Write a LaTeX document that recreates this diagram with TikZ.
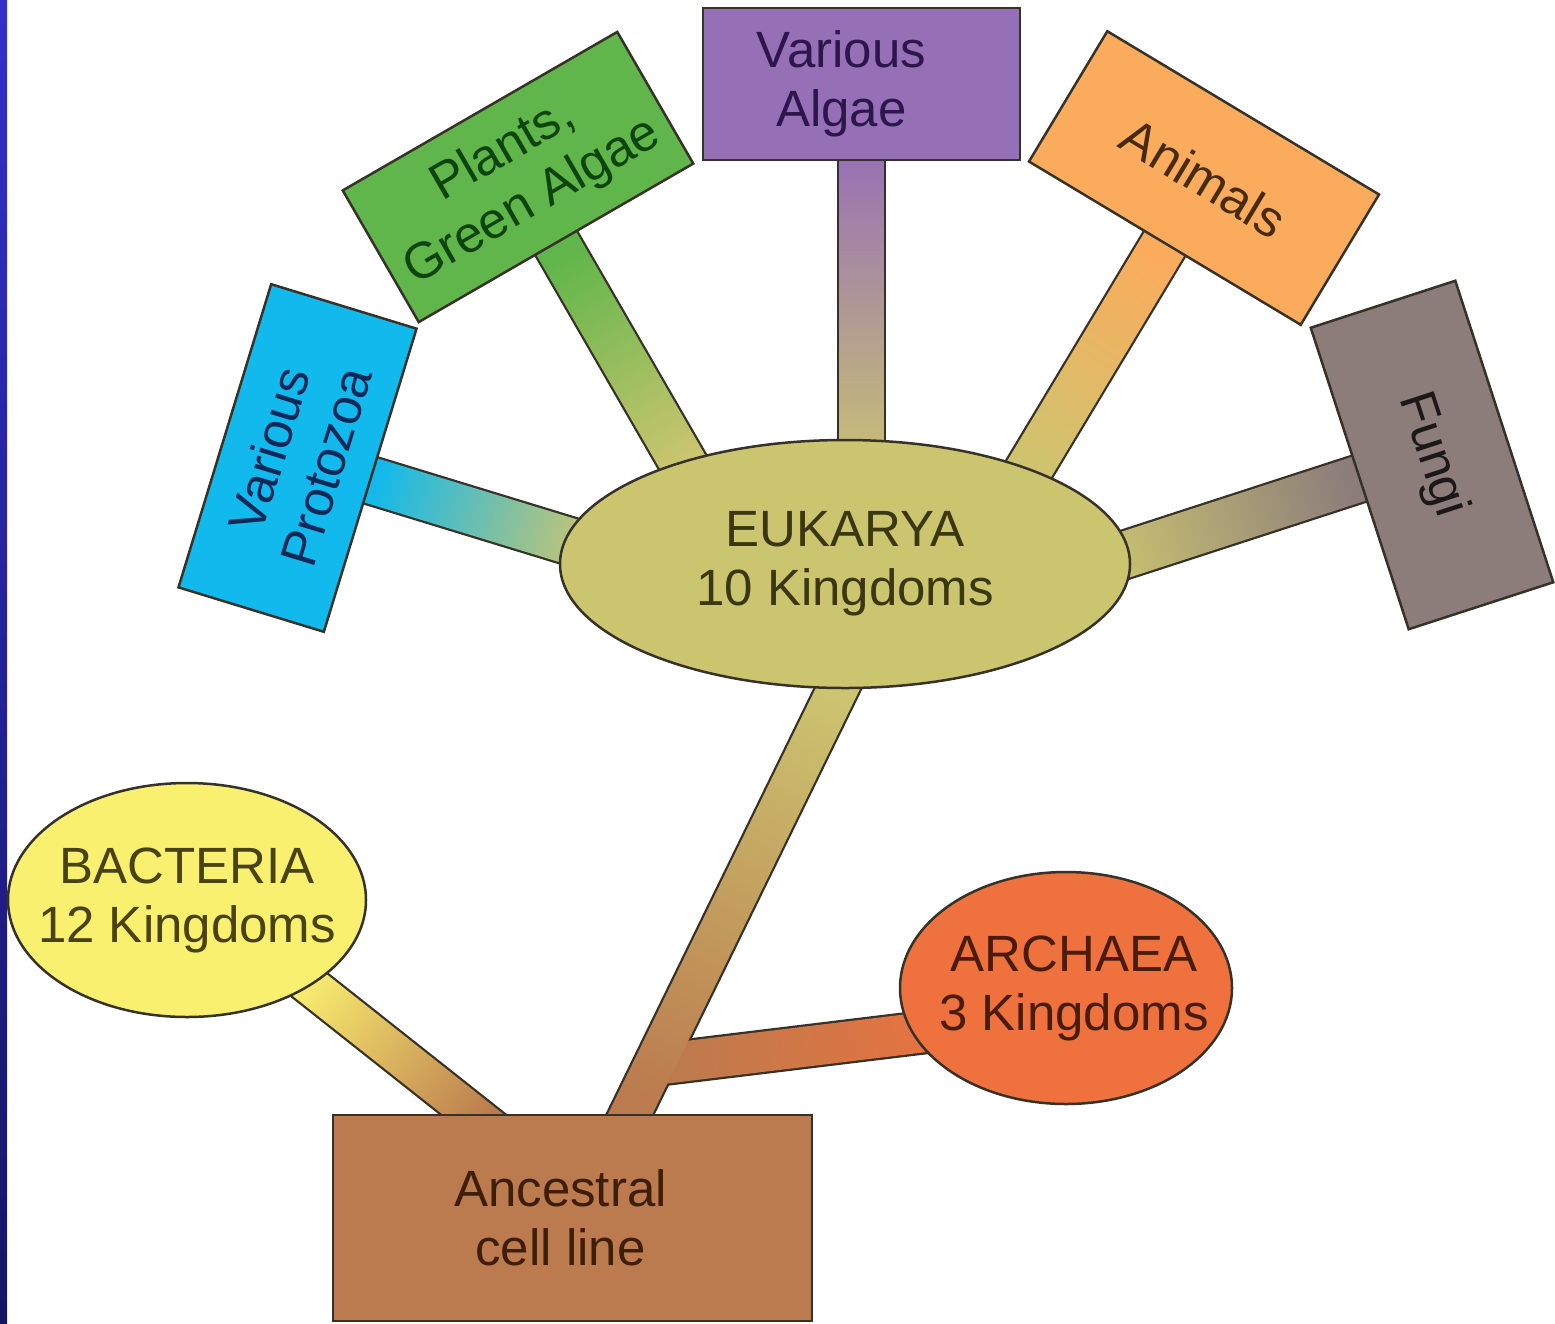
\documentclass[tikz,border=0pt]{standalone}
\usepackage{fontspec}
\setmainfont{Liberation Sans}
\usetikzlibrary{shapes.geometric,calc}
\pgfdeclarelayer{back}
\pgfdeclarelayer{stemline}
\pgfdeclarelayer{stemfill}
\pgfsetlayers{back,stemline,stemfill,main}
\definecolor{cEuk}{RGB}{204,197,112}
\definecolor{cAlg}{RGB}{150,112,182}
\definecolor{cPla}{RGB}{96,182,74}
\definecolor{cPro}{RGB}{18,185,236}
\definecolor{cAni}{RGB}{250,172,92}
\definecolor{cFun}{RGB}{140,125,123}
\definecolor{cAnc}{RGB}{187,123,78}
\definecolor{cBac}{RGB}{250,240,112}
\definecolor{cArc}{RGB}{239,113,62}
\definecolor{outl}{RGB}{55,50,40}
\definecolor{tEuk}{RGB}{58,55,18}
\definecolor{tAlg}{RGB}{45,22,75}
\definecolor{tPla}{RGB}{12,68,12}
\definecolor{tPro}{RGB}{14,40,88}
\definecolor{tAni}{RGB}{72,42,14}
\definecolor{tFun}{RGB}{28,24,24}
\definecolor{tAnc}{RGB}{62,30,8}
\definecolor{tBac}{RGB}{72,66,20}
\definecolor{tArc}{RGB}{74,28,12}
\definecolor{stripTop}{RGB}{50,48,200}
\definecolor{stripBot}{RGB}{22,20,100}
% #1 start, #2 end, #3 half width, #4 start colour, #5 end colour, #6 shading angle
\newcommand\stembar[6]{%
  \begin{pgfonlayer}{stemline}
    \draw[stemedge] ($(#1)!#3!90:(#2)$) -- ($(#1)!#3!-90:(#2)$) -- ($(#2)!#3!90:(#1)$) -- ($(#2)!#3!-90:(#1)$) -- cycle;
  \end{pgfonlayer}
  \begin{pgfonlayer}{stemfill}
    \shade[top color=#4, bottom color=#5, shading angle=#6] ($(#1)!#3!90:(#2)$) -- ($(#1)!#3!-90:(#2)$) -- ($(#2)!#3!90:(#1)$) -- ($(#2)!#3!-90:(#1)$) -- cycle;
  \end{pgfonlayer}}
\begin{document}
\begin{tikzpicture}[x=1pt,y=-1pt,
  every node/.style={font=\fontsize{51}{59}\selectfont, align=center},
  sign/.style={rectangle, draw=outl, line width=2.5, minimum width=317, minimum height=152, inner sep=0},
  blob/.style={ellipse, draw=outl, line width=2.5, inner ysep=0, inner xsep=-40pt},
  stemedge/.style={draw=outl, line width=4.5, line join=round}]
\useasboundingbox (0,0) rectangle (1555,1323);
\begin{pgfonlayer}{back}
  \fill[white] (0,0) rectangle (1555,1323);
  \shade[top color=stripTop, bottom color=stripBot] (0,0) rectangle (7,1323);
\end{pgfonlayer}

% nodes
\node[sign, fill=cAlg, text=tAlg] (algae) at (861.5,84) {Various\hspace*{40pt}\\Algae\hspace*{40pt}};
\node[sign, fill=cPla, text=tPla, rotate=30] (plants) at (518,177) {Plants,\\Green Algae};
\node[sign, fill=cPro, text=tPro, rotate=73] (protozoa) at (297.5,458) {Various\\Protozoa};
\node[sign, fill=cAni, text=tAni, rotate=-31] (animals) at (1204,178) {Animals};
\node[sign, fill=cFun, text=tFun, rotate=-72] (fungi) at (1432,455) {Fungi};
\node[blob, fill=cEuk, text=tEuk, minimum width=570, minimum height=248] (euk) at (845,564) {EUKARYA\\10 Kingdoms};
\node[sign, fill=cAnc, text=tAnc, minimum width=479, minimum height=206] (anc) at (572.5,1218) {Ancestral\hspace*{24pt}\\cell line\hspace*{24pt}};
\node[blob, fill=cBac, text=tBac, minimum width=358, minimum height=234] (bac) at (187,900) {BACTERIA\\12 Kingdoms};
\node[blob, fill=cArc, text=tArc, minimum width=332, minimum height=232] (arc) at (1066,988) {\hspace*{16pt}ARCHAEA\\\hspace*{16pt}3 Kingdoms};

% stem end points
\coordinate (algS) at ($(algae.center)!0.85!(algae.south)$);
\coordinate (algE) at ($(algae.center)!5.2!(algae.south)$);
\coordinate (plaS) at ($(plants.center)!0.85!(plants.south)$);
\coordinate (plaE) at ($(plants.center)!4.6!(plants.south)$);
\coordinate (proS) at ($(protozoa.center)!0.85!(protozoa.south)$);
\coordinate (proE) at ($(protozoa.center)!4.2!(protozoa.south)$);
\coordinate (aniS) at ($(animals.center)!0.85!(animals.south)$);
\coordinate (aniE) at ($(animals.center)!4.9!(animals.south)$);
\coordinate (funS) at ($(fungi.center)!0.85!(fungi.south)$);
\coordinate (funE) at ($(fungi.center)!4.85!(fungi.south)$);
\coordinate (trunkTop) at ($(euk.center)+(20,69)$);
\coordinate (trunkBot) at ($(anc.north west)+(281,36)$);
\coordinate (fork) at ($(trunkTop)!0.836!(trunkBot)$);
\coordinate (arcE) at ($(arc.center)+(-66,35)$);
\coordinate (bacS) at ($(bac.center)+(91,60)$);
\coordinate (bacE) at ($(anc.north west)+(176,28)$);

% stems
\stembar{algS}{algE}{22pt}{cAlg}{cEuk}{0}
\stembar{plaS}{plaE}{23pt}{cPla}{cEuk}{30}
\stembar{proS}{proE}{23pt}{cPro}{cEuk}{73}
\stembar{aniS}{aniE}{23pt}{cAni}{cEuk}{-31}
\stembar{funS}{funE}{23pt}{cFun}{cEuk}{-72}
\stembar{fork}{arcE}{20pt}{cAnc}{cArc}{97}
\stembar{trunkTop}{trunkBot}{20pt}{cEuk}{cAnc}{-26}
\stembar{bacS}{bacE}{19pt}{cBac}{cAnc}{51.5}
\end{tikzpicture}
\end{document}
